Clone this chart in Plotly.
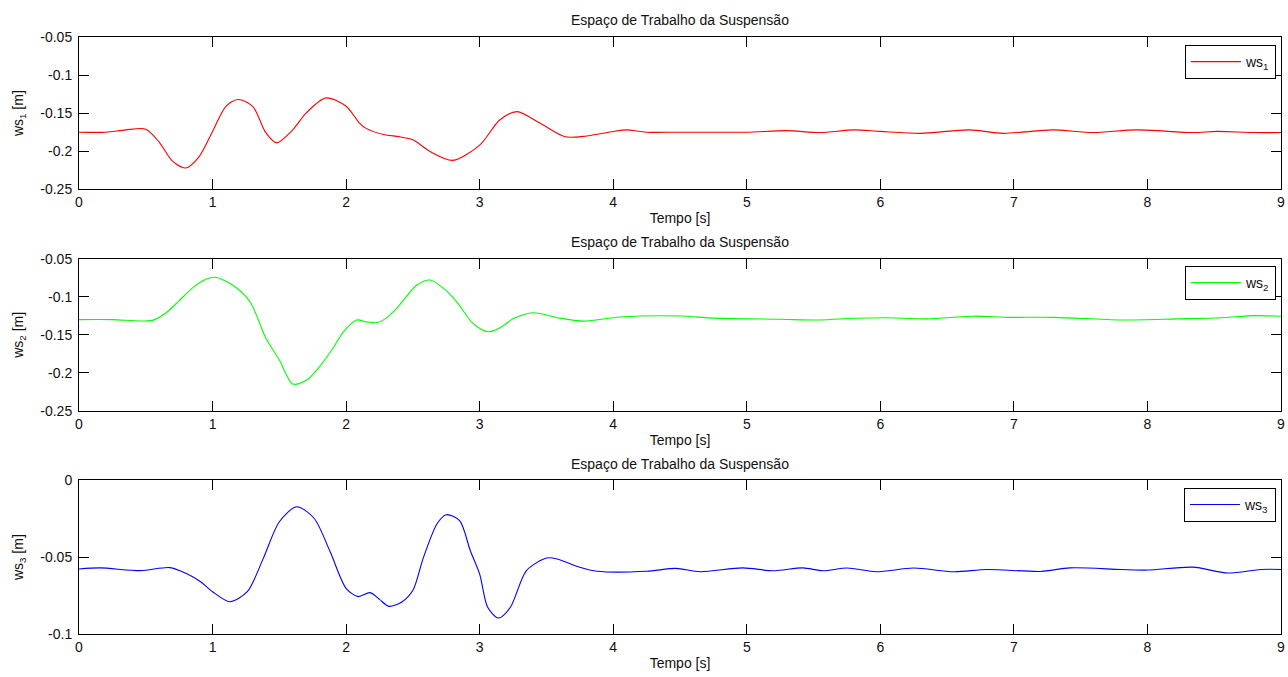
import plotly.graph_objects as go

# ---------------- data ----------------
t1 = [0, 0.2, 0.35, 0.5, 0.6, 0.7, 0.8, 0.9, 1.0, 1.1, 1.19, 1.3, 1.4, 1.48, 1.6, 1.7,
      1.85, 2.0, 2.1, 2.15, 2.28, 2.4, 2.5, 2.63, 2.8, 3.0, 3.15, 3.28, 3.45, 3.64, 3.8,
      4.0, 4.1, 4.25, 4.5, 5.0, 5.3, 5.55, 5.8, 6.0, 6.3, 6.67, 6.92, 7.29, 7.59, 7.92,
      8.34, 8.52, 8.79, 9.0]
ws1 = [-0.175, -0.175, -0.172, -0.171, -0.188, -0.213, -0.222, -0.207, -0.174, -0.141,
       -0.132, -0.141, -0.176, -0.189, -0.172, -0.150, -0.130, -0.141, -0.163, -0.170,
       -0.178, -0.181, -0.185, -0.2005, -0.212, -0.192, -0.159, -0.148, -0.163, -0.181,
       -0.180, -0.174, -0.172, -0.175, -0.175, -0.175, -0.173, -0.1755, -0.172, -0.174,
       -0.1765, -0.172, -0.1765, -0.172, -0.1755, -0.172, -0.1755, -0.174, -0.1755, -0.1755]

t2 = [0, 0.25, 0.55, 0.66, 0.75, 0.86, 0.95, 1.02, 1.15, 1.28, 1.4, 1.5, 1.6, 1.7, 1.8,
      1.9, 1.98, 2.08, 2.15, 2.23, 2.3, 2.38, 2.53, 2.63, 2.73, 2.83, 2.95, 3.06, 3.15,
      3.25, 3.4, 3.6, 3.78, 4.05, 4.5, 4.75, 5.25, 5.55, 5.8, 6.05, 6.35, 6.7, 6.95, 7.3,
      7.8, 8.22, 8.55, 8.8, 9.0]
ws2 = [-0.130, -0.130, -0.131, -0.120, -0.105, -0.087, -0.077, -0.0745, -0.0846, -0.1065,
       -0.1546, -0.183, -0.2145, -0.210, -0.192, -0.168, -0.146, -0.1305, -0.133, -0.134,
       -0.128, -0.115, -0.0846, -0.078, -0.089, -0.107, -0.135, -0.146, -0.141, -0.129,
       -0.121, -0.128, -0.132, -0.1266, -0.1253, -0.128, -0.1296, -0.1305, -0.1283, -0.1275,
       -0.129, -0.1255, -0.127, -0.127, -0.1305, -0.129, -0.1275, -0.1248, -0.1255]

t3 = [0, 0.16, 0.46, 0.68, 0.8, 0.91, 1.0, 1.13, 1.26, 1.38, 1.5, 1.63, 1.76, 1.88, 2.0,
      2.09, 2.18, 2.25, 2.32, 2.42, 2.5, 2.58, 2.68, 2.75, 2.85, 2.93, 3.0, 3.06, 3.14,
      3.23, 3.35, 3.5, 3.58, 3.75, 3.88, 4.25, 4.47, 4.65, 4.97, 5.2, 5.42, 5.57, 5.75,
      5.97, 6.25, 6.55, 6.8, 7.2, 7.42, 7.8, 8.0, 8.34, 8.6, 8.85, 9.0]
ws3 = [-0.0577, -0.057, -0.0588, -0.0568, -0.0605, -0.066, -0.0725, -0.079, -0.0725,
       -0.0508, -0.027, -0.0172, -0.0247, -0.0464, -0.0703, -0.0757, -0.0731, -0.0775,
       -0.082, -0.079, -0.0716, -0.050, -0.0284, -0.0224, -0.0263, -0.0458, -0.061,
       -0.0826, -0.0896, -0.0826, -0.0588, -0.0506, -0.0512, -0.0566, -0.0592, -0.0592,
       -0.0573, -0.0595, -0.057, -0.0589, -0.057, -0.0589, -0.0571, -0.0595, -0.0571,
       -0.0595, -0.058, -0.0593, -0.057, -0.058, -0.0584, -0.0565, -0.0603, -0.058, -0.058]

x_ticks = [0, 1, 2, 3, 4, 5, 6, 7, 8, 9]
y12_ticks = [-0.25, -0.2, -0.15, -0.1, -0.05]
y12_labels = ["-0.25", "-0.2", "-0.15", "-0.1", "-0.05"]
y3_ticks = [-0.1, -0.05, 0]
y3_labels = ["-0.1", "-0.05", "0"]

title_text = "Espaço de Trabalho da Suspensão"
xlabel = "Tempo [s]"
names = ["ws<sub>1</sub>", "ws<sub>2</sub>", "ws<sub>3</sub>"]
ylabels = ["ws<sub>1</sub> [m]", "ws<sub>2</sub> [m]", "ws<sub>3</sub> [m]"]
colors = ["#ff0000", "#00ff00", "#0000ff"]

# ---------------- figure ----------------
FONT = "Liberation Sans, Arial, sans-serif"
FS = 14
fig = go.Figure()
series = [(t1, ws1), (t2, ws2), (t3, ws3)]
for i, (tt, vv) in enumerate(series):
    sfx = "" if i == 0 else str(i + 1)
    fig.add_trace(go.Scatter(
        x=tt, y=vv, mode="lines", name=names[i], showlegend=True,
        line=dict(color=colors[i], width=1.1, shape="spline", smoothing=0.8),
        xaxis="x" + sfx, yaxis="y" + sfx, legend="legend" + sfx,
    ))

domains = [[0.7449, 1.0], [0.3735, 0.6287], [0.0, 0.2575]]
title_y = [1.0285, 0.6566, 0.2848]
legend_y = [0.9866, 0.6164, 0.2446]

axis_common = dict(showline=True, linecolor="black", linewidth=1, mirror="allticks",
                   ticks="inside", ticklen=10, tickcolor="black", showgrid=False,
                   zeroline=False, automargin=False, ticklabeloverflow="allow",
                   tickfont=dict(size=FS, color="#111", family=FONT))

layout = dict(
    width=1288, height=677,
    margin=dict(l=79, r=7, t=37, b=43),
    paper_bgcolor="white", plot_bgcolor="white",
    font=dict(family=FONT, size=FS, color="#111"),
    showlegend=True,
    annotations=[],
)
for i in range(3):
    sfx = "" if i == 0 else str(i + 1)
    xa = dict(axis_common, domain=[0, 1], range=[0, 9], tickvals=x_ticks,
              anchor="y" + sfx,
              title=dict(text=xlabel, standoff=4, font=dict(size=FS, family=FONT)))
    if i == 2:
        yt, yl, yr = y3_ticks, y3_labels, [-0.1, 0]
    else:
        yt, yl, yr = y12_ticks, y12_labels, [-0.25, -0.05]
    ya = dict(axis_common, domain=domains[i], range=yr, tickvals=yt, ticktext=yl,
              anchor="x" + sfx, ticklabelstandoff=3,
              title=dict(text=ylabels[i], standoff=13, font=dict(size=FS, family=FONT)))
    layout["xaxis" + sfx] = xa
    layout["yaxis" + sfx] = ya
    layout["legend" + sfx] = dict(x=0.9958, xanchor="right", y=legend_y[i], yanchor="top",
                                  bordercolor="black", borderwidth=1, bgcolor="white",
                                  itemwidth=50,
                                  font=dict(size=FS, family=FONT))
    layout["annotations"].append(dict(text=title_text, x=0.5, y=title_y[i], xref="paper",
                                      yref="paper", showarrow=False, yanchor="middle",
                                      font=dict(size=FS, family=FONT)))

fig.update_layout(**layout)
fig.write_html("out.html")
